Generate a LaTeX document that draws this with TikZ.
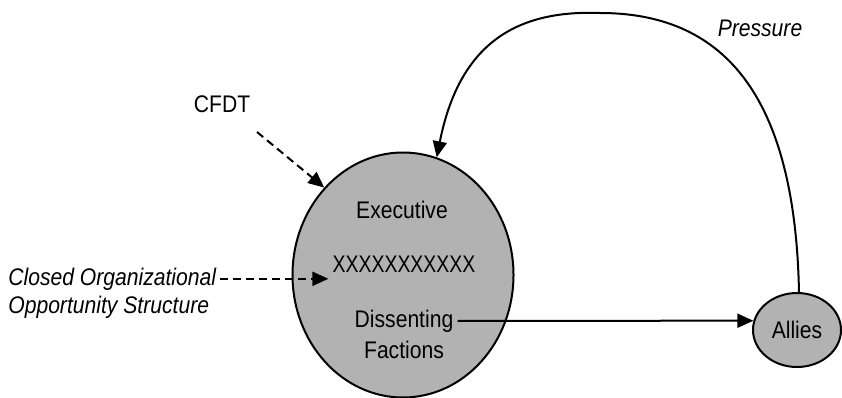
\documentclass[tikz,border=0pt]{standalone}
\usepackage{fontspec}
\setmainfont{Liberation Sans}[FakeStretch=0.88]
\usetikzlibrary{shapes,arrows.meta}

\begin{document}
\begin{tikzpicture}[x=1pt, y=-1pt, line width=2pt,
      blob/.style={ellipse, draw, fill=black!30},
      lbl/.style={anchor=base, font=\fontsize{24}{28}\selectfont},
      tip/.style={-{Triangle[length=16pt,width=14pt]}},
      dashtip/.style={tip, dash pattern=on 8pt off 5pt}]
      \useasboundingbox (0,0) rectangle (842,398);
      \node[blob, minimum width=221, minimum height=245] (org) at (403,275) {};
      \node[blob, minimum width=88, minimum height=74,
            font=\fontsize{24}{28}\selectfont] (allies) at (797,330) {Allies};
      \node[lbl] (exec) at (402,218) {Executive};
      \node[lbl] (xs) at (404,272) {\scalebox{0.92}[1]{XXXXXXXXXXX}};
      \node[lbl] (diss) at (404,327) {Dissenting};
      \node[lbl] (fact) at (404,358) {Factions};
      \node[lbl] (cfdt) at (222,113) {CFDT};
      \node[lbl] (press) at (760,37) {\itshape Pressure};
      \node[lbl, anchor=base west] (closed) at (4,285) {\itshape Closed Organizational};
      \node[lbl, anchor=base west] (opp) at (4,313) {\itshape Opportunity Structure};
      \coordinate (cfdtfoot) at (257,132);
      \draw[dashtip] (cfdtfoot) -- (org.132);
      \draw[dashtip] (closed.east) -- (closed.east -| xs.west);
      \draw[tip] (diss.east) -- (allies.168);
      \draw[tip] (allies.87) .. controls (795,90) and (720,13) .. (600,13)
                 .. controls (520,10) and (460,40) .. (org.74);
\end{tikzpicture}
\end{document}
